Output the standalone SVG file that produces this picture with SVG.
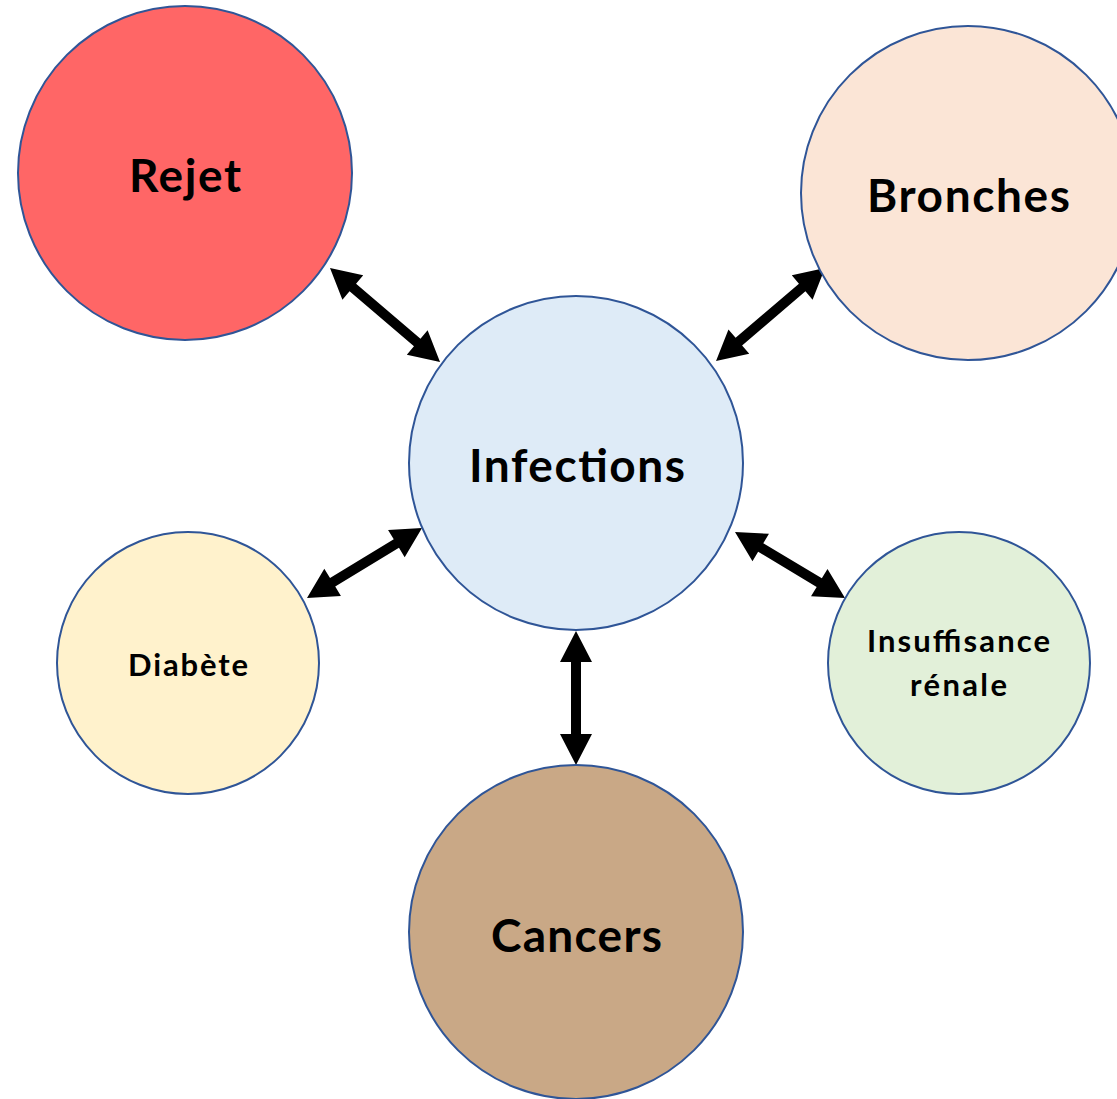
<svg xmlns="http://www.w3.org/2000/svg" width="1117" height="1099" viewBox="0 0 1117 1099">
<style>
.n{stroke:#2F5597;stroke-width:2}
.t{font-family:Lato,"Open Sans","Liberation Sans",sans-serif;font-weight:bold;fill:#000;text-anchor:middle}
.big{font-size:46px}
.sm{font-size:31px}
.a{fill:#000}
</style>
<rect width="1117" height="1099" fill="#fff"/>
<g id="connectors">
<path class="a" transform="translate(330,268) rotate(40.5)" d="M0,0 L30,-16 L30,-5 L114.7,-5 L114.7,-16 L144.7,0 L114.7,16 L114.7,5 L30,5 L30,16 Z"/>
<path class="a" transform="translate(825,268) rotate(139.5)" d="M0,0 L30,-16 L30,-5 L113.3,-5 L113.3,-16 L143.3,0 L113.3,16 L113.3,5 L30,5 L30,16 Z"/>
<path class="a" transform="translate(422,528) rotate(148.7)" d="M0,0 L30,-16 L30,-5 L104.6,-5 L104.6,-16 L134.6,0 L104.6,16 L104.6,5 L30,5 L30,16 Z"/>
<path class="a" transform="translate(735,532) rotate(31)" d="M0,0 L30,-16 L30,-5 L98.3,-5 L98.3,-16 L128.3,0 L98.3,16 L98.3,5 L30,5 L30,16 Z"/>
<path class="a" transform="translate(576,631) rotate(90)" d="M0,0 L31,-16 L31,-5 L103,-5 L103,-16 L134,0 L103,16 L103,5 L31,5 L31,16 Z"/>
</g>
<g id="rejet">
<circle class="n" cx="185" cy="173" r="167" fill="#FF6666"/>
<text class="t big" x="185" y="192" textLength="112">Rejet</text>
</g>
<g id="bronches">
<circle class="n" cx="968" cy="193" r="167" fill="#FBE5D6"/>
<text class="t big" x="968.5" y="212" textLength="203">Bronches</text>
</g>
<g id="infections">
<circle class="n" cx="576" cy="463" r="167" fill="#DEEBF7"/>
<text class="t big" x="577" y="482" textLength="216">Infections</text>
</g>
<g id="diabete">
<circle class="n" cx="188" cy="663" r="131" fill="#FFF2CC"/>
<text class="t sm" x="188" y="676" textLength="120">Diabète</text>
</g>
<g id="insuffisance">
<circle class="n" cx="959" cy="663" r="131" fill="#E2F0D9"/>
<text class="t sm" x="958.5" y="652" textLength="183">Insuffisance</text>
<text class="t sm" x="958.5" y="696" textLength="97">rénale</text>
</g>
<g id="cancers">
<circle class="n" cx="576" cy="932" r="167" fill="#C9A886"/>
<text class="t big" x="576.5" y="952" textLength="171">Cancers</text>
</g>
</svg>
